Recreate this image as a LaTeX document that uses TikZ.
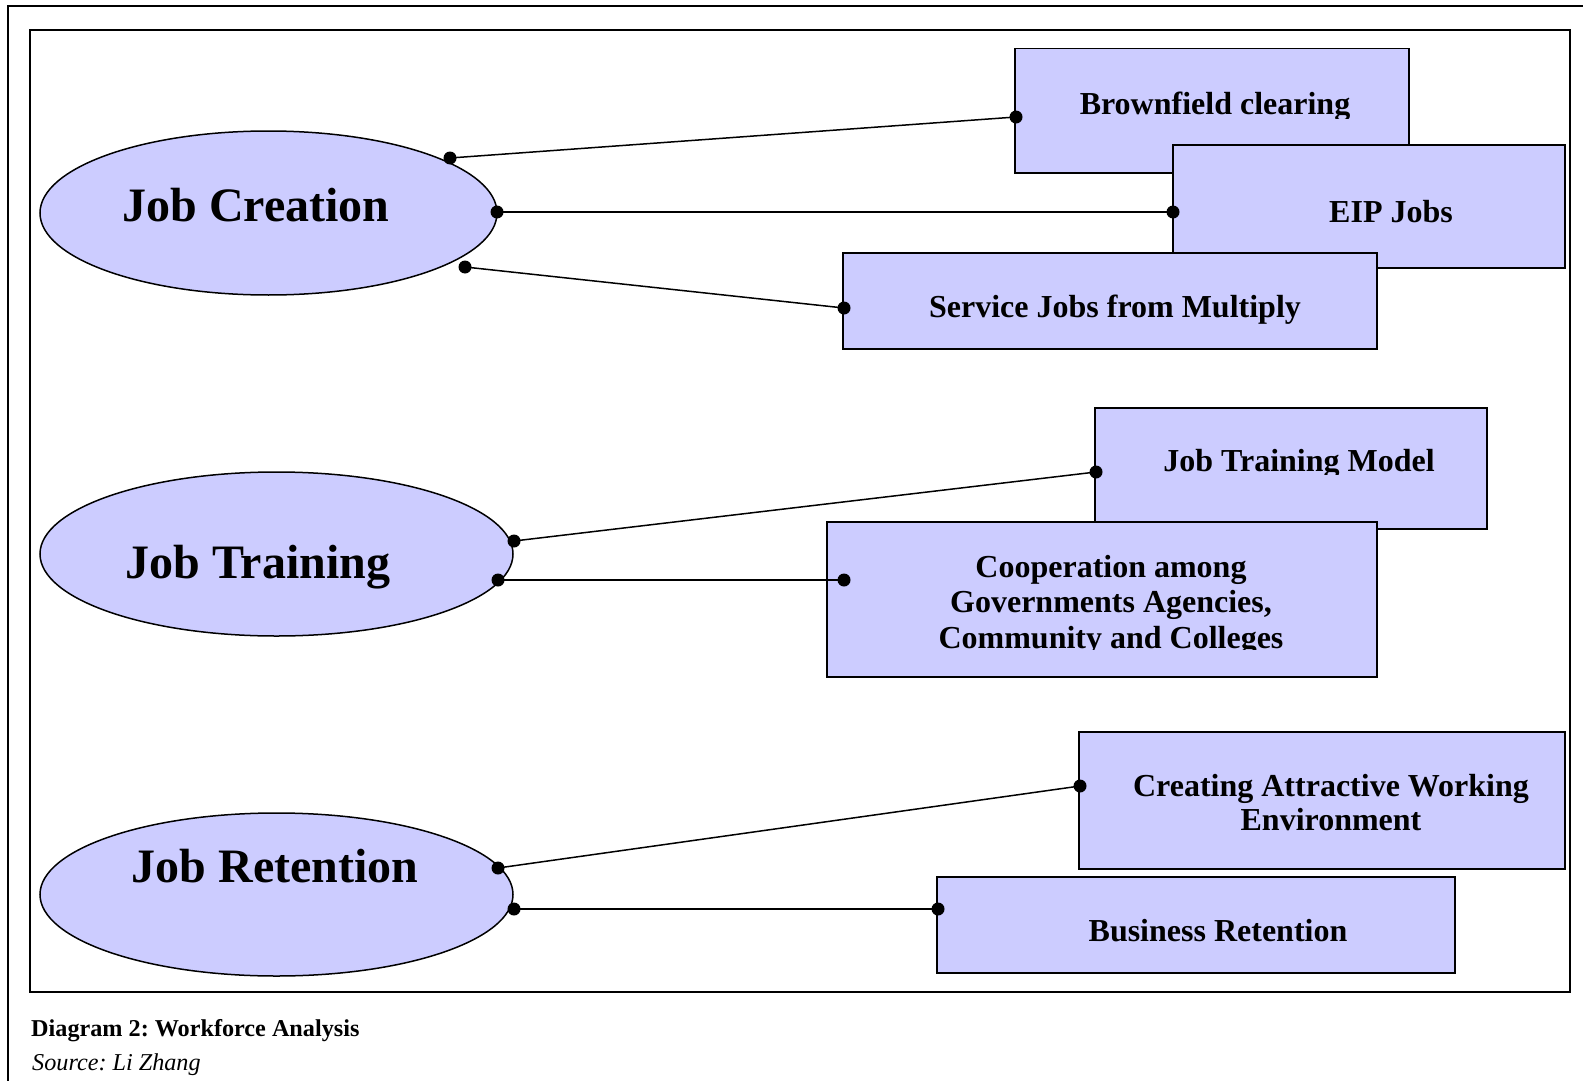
\documentclass[tikz,border=0pt]{standalone}
\usepackage{fontspec}
\setmainfont{Liberation Serif}
\usetikzlibrary{shapes.geometric,calc}
\definecolor{boxfill}{RGB}{204,204,255}
\frenchspacing
\begin{document}
\begin{tikzpicture}[x=1pt,y=-1pt,
  frame/.style={line width=1.6pt},
  oval/.style={ellipse, draw, fill=boxfill, line width=1.5pt, inner sep=0pt},
  box/.style={rectangle, draw, fill=boxfill, line width=1.5pt, inner sep=0pt, anchor=north west},
  bigtxt/.style={font=\fontsize{48}{54}\selectfont\bfseries, anchor=base, inner sep=0pt},
  boxtxt/.style={font=\fontsize{32}{35.5}\selectfont\bfseries, anchor=base, inner sep=0pt, align=center},
  conn/.style={line width=1.5pt},
  dotc/.style={fill=black},
]
\useasboundingbox (0,0) rectangle (1583,1081);
\fill[white] (0,0) rectangle (1583,1081);
% frames
\draw[frame] (8,1100) -- (8,6) -- (1600,6);
\draw[frame] (30,30) rectangle (1570,992);

% ellipses
\node[oval, minimum width=457pt, minimum height=164pt] (jc) at (268.5,213) {};
\node[bigtxt] (jct) at (256,221) {Job Creation};
\node[oval, minimum width=473pt, minimum height=164pt] (jt) at (276.5,554) {};
\node[bigtxt] (jtt) at (258,578) {Job Training};
\node[oval, minimum width=473pt, minimum height=163pt] (jr) at (276.5,894.5) {};
\node[bigtxt] (jrt) at (275,882) {Job Retention};

% Job Creation boxes
\node[box, minimum width=394pt, minimum height=124pt] (bf) at (1014,48) {};
\begin{scope}
  \clip (1014,48) rectangle (1408,118);
  \node[boxtxt] (bft) at (1215,114) {Brownfield clearing};
\end{scope}
\node[box, minimum width=392pt, minimum height=123pt] (eip) at (1172,144) {};
\node[boxtxt] (eipt) at (1391,222) {EIP Jobs};
\node[box, minimum width=534pt, minimum height=96pt] (sv) at (842,252) {};
\begin{scope}
  \clip (842,252) rectangle (1376,323);
  \node[boxtxt] (svt) at (1115,317) {Service Jobs from Multiply};
\end{scope}

% Job Training boxes
\node[box, minimum width=392pt, minimum height=121pt] (jtm) at (1094,407) {};
\begin{scope}
  \clip (1094,407) rectangle (1486,474.5);
  \node[boxtxt] (jtmt) at (1299,471) {Job Training Model};
\end{scope}
\node[box, minimum width=550pt, minimum height=155pt] (coop) at (826,521) {};
\begin{scope}
  \clip (826,521) rectangle (1376,649);
  \node[boxtxt] (coopt) at (1111,648) {Cooperation among\\Governments Agencies,\\Community and Colleges};
\end{scope}

% Job Retention boxes
\node[box, minimum width=486pt, minimum height=137pt] (cre) at (1078,731) {};
\node[boxtxt, font=\fontsize{32}{34}\selectfont\bfseries] (cret) at (1331,830) {Creating Attractive Working\\Environment};
\node[box, minimum width=518pt, minimum height=96pt] (bus) at (936,876) {};
\node[boxtxt] (bust) at (1218,941) {Business Retention};

% connector end points
\coordinate (a1) at ($(jc.center)+(181.5,-55)$);
\coordinate (a2) at ($(jc.center)+(228.5,-1)$);
\coordinate (a3) at ($(jc.center)+(196.5,54)$);
\coordinate (b1) at ($(bf.north west)+(2,69)$);
\coordinate (b2) at ($(eip.north west)+(1,68)$);
\coordinate (b3) at ($(sv.north west)+(2,56)$);
\coordinate (a4) at ($(jt.center)+(237.5,-13)$);
\coordinate (a5) at ($(jt.center)+(221.5,26)$);
\coordinate (b4) at ($(jtm.north west)+(2,65)$);
\coordinate (b5) at ($(coop.north west)+(18,59)$);
\coordinate (a6) at ($(jr.center)+(221.5,-26.5)$);
\coordinate (a7) at ($(jr.center)+(237.5,14.5)$);
\coordinate (b6) at ($(cre.north west)+(2,55)$);
\coordinate (b7) at ($(bus.north west)+(2,33)$);

\foreach \s/\t in {a1/b1,a2/b2,a3/b3,a4/b4,a5/b5,a6/b6,a7/b7}{
  \draw[conn] (\s) -- (\t);
  \fill[dotc] (\s) circle (6.5pt);
  \fill[dotc] (\t) circle (6.5pt);
}

% caption
\node[font=\fontsize{24.2}{28}\selectfont\bfseries, anchor=base west, inner sep=0pt] (cap) at (31,1036) {Diagram 2: Workforce Analysis};
\node[font=\fontsize{24.2}{28}\selectfont\itshape, anchor=base west, inner sep=0pt] (src) at (32,1070) {Source: Li Zhang};
\end{tikzpicture}
\end{document}
